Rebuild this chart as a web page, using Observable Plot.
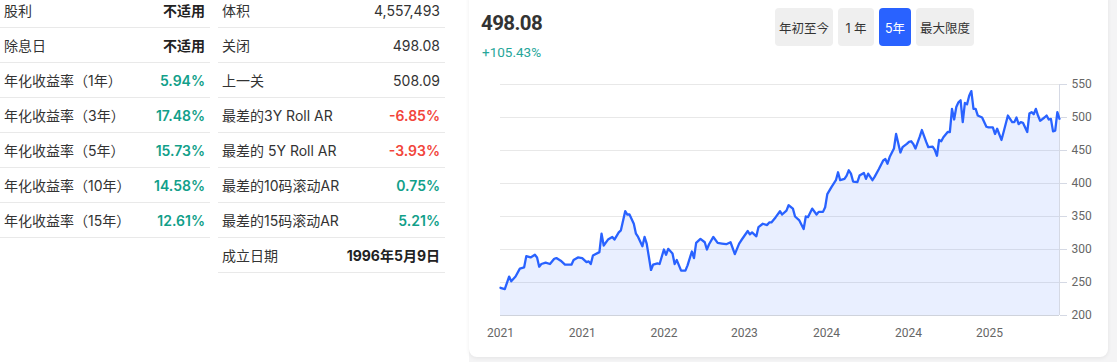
<!DOCTYPE html>
<html>
<head>
<meta charset="utf-8">
<script src="https://cdn.jsdelivr.net/npm/d3@7"></script>
<script src="https://cdn.jsdelivr.net/npm/@observablehq/plot@0.6"></script>
<style>
  html, body { margin: 0; padding: 0; }
  body { width: 1117px; height: 362px; overflow: hidden; position: relative; background: #fff;
         font-family: Inter, "Noto Sans CJK SC", "Noto Sans", sans-serif; color: #333; }
  .tbl { position: absolute; top: -7px; }
  .row { height: 34px; border-bottom: 1px solid #e9e9e9; display: flex; justify-content: space-between;
         align-items: center; padding: 0 5px 0 4px; font-size: 14px; }
  .row .v { font-weight: 400; }
  .b { font-weight: 700 !important; color: #222; }
  .g { color: #129f8a; font-weight: 600 !important; }
  .r { color: #f2453b; font-weight: 600 !important; }
  #bg { position: absolute; left: 469px; top: 0; right: 0; bottom: 0; background: #f4f4f5; }
  #card { position: absolute; left: 469px; top: -8px; width: 639px; height: 365px; background: #fff;
          border-radius: 8px; box-shadow: 0 1px 4px rgba(0,0,0,0.07); }
  #price { position: absolute; left: 12px; top: 19px; font-family: Roboto, sans-serif; font-size: 20.5px; font-weight: 700; color: #333; line-height: 24px; letter-spacing: -0.6px; }
  #chg { position: absolute; left: 13px; top: 52px; font-family: Roboto, sans-serif; font-size: 13.5px; color: #26a69a; line-height: 16px; }
  #btns { position: absolute; left: 306px; top: 16px; display: flex; gap: 5px; }
  .btn { height: 38px; border-radius: 4px; background: #efefef; color: #333; font-size: 12.5px;
         display: flex; align-items: center; justify-content: center; }
  .btn.on { background: #2962ff; color: #fff; }
  #chart { position: absolute; left: 469px; top: 60px; }
</style>
</head>
<body>
<div id="leftT" class="tbl" style="left:0;width:210px;"></div>
<div id="rightT" class="tbl" style="left:218px;width:227px;"></div>
<div id="bg"></div>
<div id="card">
  <div id="price"></div>
  <div id="chg"></div>
  <div id="btns"></div>
</div>
<div id="chart"></div>
<script>
// ---- table data ----
const leftLabels = ["股利", "除息日", "年化收益率（1年）", "年化收益率（3年）", "年化收益率（5年）", "年化收益率（10年）", "年化收益率（15年）"];
const leftValues = ["不适用", "不适用", "5.94%", "17.48%", "15.73%", "14.58%", "12.61%"];
const leftStyles = ["b", "b", "g", "g", "g", "g", "g"];
const rightLabels = ["体积", "关闭", "上一关", "最差的3Y Roll AR", "最差的 5Y Roll AR", "最差的10码滚动AR", "最差的15码滚动AR", "成立日期"];
const rightValues = ["4,557,493", "498.08", "508.09", "-6.85%", "-3.93%", "0.75%", "5.21%", "1996年5月9日"];
const rightStyles = ["", "", "", "r", "r", "g", "g", "b"];

// ---- header ----
const lastPrice = "498.08";
const change = "+105.43%";
const buttons = ["年初至今", "1 年", "5年", "最大限度"];
const buttonWidths = [58, 36, 32, 58];
const activeButton = "5年";

// ---- series (weekly closes, week offset from start) ----
const startDate = "2021-02-08";
const totalWeeks = 260;
const weeks = [0,2,4,5,7,9,11,12,14,16,17,18,19,21,23,25,26,28,30,33,34,36,38,40,41,42,43,46,47,48,50,52,53,55,56,58,59,60,62,63,
  64,66,67,68,70,71,73,74,76,77,78,80,81,82,84,86,87,89,90,91,93,95,96,97,99,101,103,105,107,109,111,112,115,116,117,119,120,122,124,125,126,128,
  130,131,133,134,136,137,139,141,142,143,145,147,148,150,151,152,154,156,157,158,160,161,162,163,164,166,167,169,170,171,173,174,176,178,179,180,181,183,184,186,187,189,190,191,192,193,
  195,196,198,199,201,202,203,204,205,206,208,209,210,211,212,213,214,215,216,217,218,219,220,221,222,224,226,227,229,230,231,233,234,236,237,238,239,240,241,242,243,245,246,247,248,249,250,251,253,254,255,256,257,258,259,260];
const prices = [242,240,259,252,259,271,273,290,288,292,288,274,278,280,278,286,287,283,277,277,284,288,287,281,282,278,291,296,324,306,315,319,315,326,329,358,353,353,339,324,
  319,305,319,309,269,277,279,278,300,292,301,294,278,284,268,268,276,297,287,310,316,311,300,308,319,310,309,308,311,293,309,314,328,323,326,320,334,339,337,341,341,349,
  358,353,359,367,362,350,344,331,350,349,362,353,357,357,364,384,395,405,417,405,407,412,420,415,403,402,412,416,407,415,405,410,422,435,437,430,440,453,475,447,455,460,463,464,460,453,
  471,481,463,455,456,451,442,466,464,470,478,478,513,497,516,523,526,493,522,520,533,540,513,513,503,500,486,485,485,475,483,466,478,503,498,493,493,500,490,493,492,478,506,508,505,513,503,495,500,503,497,498,479,480,508,498.08];

// ---- axes ----
const tickDates = ["2021-02-08", "2021-11-01", "2022-07-25", "2023-04-13", "2024-01-05", "2024-09-28", "2025-06-19"];
const tickLabels = ["2021", "2021", "2022", "2023", "2024", "2024", "2025"];
const yDomain = [200, 550];
const yTicks = [200, 250, 300, 350, 400, 450, 500, 550];

// ---- build tables ----
function buildTable(el, labels, values, styles) {
  labels.forEach((l, i) => {
    const row = document.createElement("div");
    row.className = "row";
    const a = document.createElement("span"); a.textContent = l;
    const b = document.createElement("span"); b.textContent = values[i]; b.className = "v " + styles[i];
    row.appendChild(a); row.appendChild(b); el.appendChild(row);
  });
}
buildTable(document.getElementById("leftT"), leftLabels, leftValues, leftStyles);
buildTable(document.getElementById("rightT"), rightLabels, rightValues, rightStyles);
document.getElementById("price").textContent = lastPrice;
document.getElementById("chg").textContent = change;
const btns = document.getElementById("btns");
buttons.forEach((t, i) => {
  const d = document.createElement("div");
  d.className = "btn" + (t === activeButton ? " on" : "");
  d.style.width = buttonWidths[i] + "px";
  d.textContent = t;
  btns.appendChild(d);
});

// ---- chart ----
const parse = d3.utcParse("%Y-%m-%d");
const start = parse(startDate);
const data = weeks.map((w, i) => ({ date: d3.utcDay.offset(start, w * 7), price: prices[i] }));
const xDomain = [start, d3.utcDay.offset(start, totalWeeks * 7)];
const tickDateObjs = tickDates.map(parse);
const labelOf = new Map(tickDateObjs.map((d, i) => [+d, tickLabels[i]]));

const chart = Plot.plot({
  width: 636,
  height: 290,
  marginLeft: 31,
  marginRight: 46,
  marginTop: 24,
  marginBottom: 35,
  style: { fontFamily: "Roboto, 'Noto Sans', sans-serif", fontSize: "12px", color: "#666", background: "transparent" },
  x: { type: "utc", domain: xDomain },
  y: { domain: yDomain },
  marks: [
    Plot.gridY(yTicks, { stroke: "#e8e8e8", strokeOpacity: 1 }),
    Plot.areaY(data, { x: "date", y1: yDomain[0], y2: "price", fill: "#2962ff", fillOpacity: 0.1 }),
    Plot.ruleX([xDomain[1]], { stroke: "#d5d9e4" }),
    Plot.ruleY([yDomain[0]], { stroke: "#cfd3dc" }),
    Plot.lineY(data, { x: "date", y: "price", stroke: "#2962ff", strokeWidth: 2.3, strokeLinejoin: "round" }),
    Plot.axisY({ anchor: "right", ticks: yTicks, tickSize: 7, tickPadding: 5, stroke: "#d5d9e4", fill: "#666", label: null }),
    Plot.axisX({ ticks: tickDateObjs, tickSize: 0, tickPadding: 13, tickFormat: d => labelOf.get(+d), fill: "#666", label: null })
  ]
});
document.getElementById("chart").appendChild(chart);
</script>
</body>
</html>
